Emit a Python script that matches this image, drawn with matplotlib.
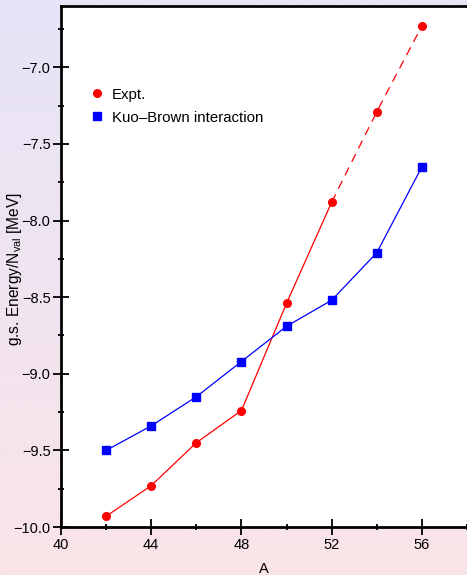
import matplotlib
matplotlib.use("Agg")
import matplotlib.pyplot as plt
from matplotlib.ticker import MultipleLocator, FuncFormatter
import numpy as np

plt.rcParams['font.family'] = ['Liberation Sans', 'DejaVu Sans']
plt.rcParams['mathtext.fontset'] = 'custom'
plt.rcParams['mathtext.rm'] = 'Liberation Sans'
plt.rcParams['mathtext.it'] = 'Liberation Sans:italic'

# data
mass_A = [42, 44, 46, 48, 50, 52, 54, 56]
expt = [-9.93, -9.73, -9.45, -9.24, -8.54, -7.88, -7.29, -6.73]
kuo_brown = [-9.50, -9.34, -9.15, -8.92, -8.69, -8.52, -8.21, -7.65]
n_solid = 6  # expt points joined by a solid line, rest dashed

red = '#ff0000'
blue = '#0000ff'

fig = plt.figure(figsize=(4.67, 5.75), dpi=100)

# background gradient (lavender at top -> pink at bottom)
bg = fig.add_axes([0, 0, 1, 1], zorder=-10)
top_col = np.array([230, 228, 247]) / 255
bot_col = np.array([250, 228, 232]) / 255
t = np.linspace(0, 1, 256)[:, None]
grad = top_col[None, :] * (1 - t) + bot_col[None, :] * t
bg.imshow(grad[:, None, :], aspect='auto', extent=[0, 1, 0, 1])
bg.axis('off')

ax = fig.add_axes([61 / 467, 48 / 575, 1 - 61 / 467, 521 / 575])
ax.set_facecolor('white')

# expt: solid part then dashed extension
ax.plot(mass_A[:n_solid], expt[:n_solid], color=red, lw=0.9)
ax.plot(mass_A[n_solid - 1:], expt[n_solid - 1:], color=red, lw=0.9, ls=(0, (7, 5)))
ax.plot(mass_A, kuo_brown, color=blue, lw=0.9)
ax.plot(mass_A, expt, ls='none', marker='o', ms=5.5, color=red, label='Expt.')
ax.plot(mass_A, kuo_brown, ls='none', marker='s', ms=5.8, color=blue,
        label='Kuo\u2013Brown interaction')

ax.set_xlim(40, 58)
ax.set_ylim(-10.0, -6.6)
ax.xaxis.set_major_locator(MultipleLocator(4))
ax.xaxis.set_minor_locator(MultipleLocator(2))
ax.yaxis.set_major_locator(MultipleLocator(0.5))
ax.yaxis.set_minor_locator(MultipleLocator(0.25))
ax.yaxis.set_major_formatter(FuncFormatter(lambda v, p: f'{v:.1f}'.replace('-', '\u2212')))

ax.tick_params(which='major', direction='inout', length=12, width=1.3,
               labelsize=10.5, pad=1.5)
ax.tick_params(which='minor', direction='inout', length=5, width=1.3)
ax.tick_params(axis='x', which='major', pad=2)

for s in ['left', 'bottom', 'top']:
    ax.spines[s].set_linewidth(2)
ax.spines['right'].set_visible(False)

ax.set_xlabel('A', fontsize=10.5, labelpad=7)
ax.set_ylabel(r'g.s. Energy/N$_{\mathrm{val}}$ [MeV]', fontsize=11.2)
ax.yaxis.set_label_coords(-0.091, 0.495)

ax.legend(loc='upper left', bbox_to_anchor=(0.055, 0.855), frameon=False,
          fontsize=10.8, handlelength=1.0, handletextpad=0.5, labelspacing=0.6,
          borderaxespad=0)

fig.savefig('out.png', dpi=100)
